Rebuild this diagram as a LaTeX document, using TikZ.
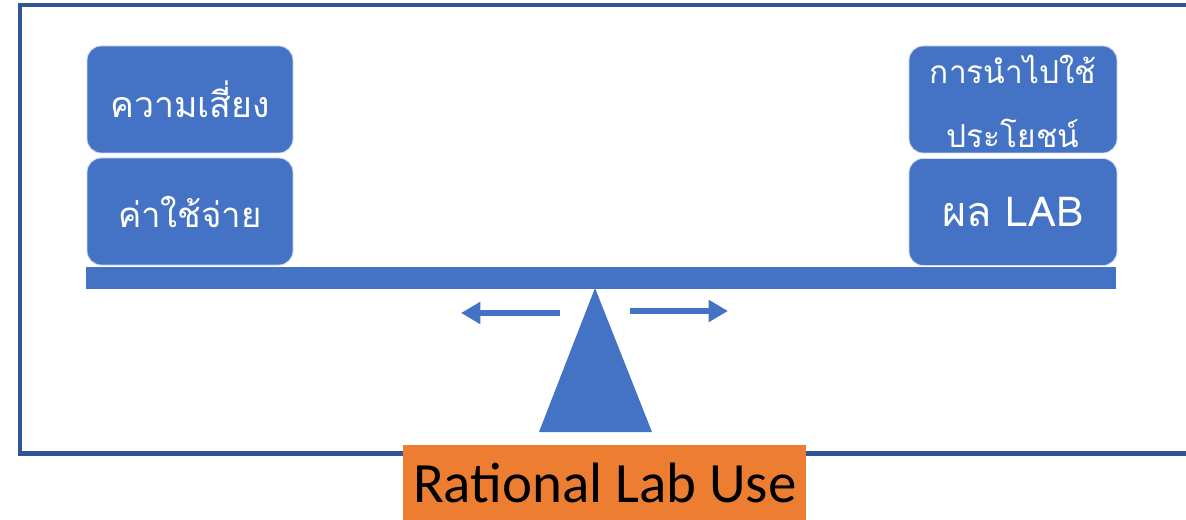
\documentclass[tikz,border=0pt]{standalone}
\usepackage{fontspec}
\setmainfont{Carlito}
\newfontfamily\thaifont[Script=Thai]{Loma}
\usetikzlibrary{arrows.meta}
\definecolor{boxblue}{RGB}{68,114,196}
\definecolor{frameblue}{RGB}{47,85,151}
\definecolor{labelorange}{RGB}{237,125,49}
\tikzset{
  weight/.style={fill=boxblue, draw=white!75!boxblue, line width=0.5pt,
    rounded corners=8pt, minimum width=206*0.02cm, minimum height=107*0.02cm,
    text=white, align=center, inner sep=0pt},
  weighttext/.style={text=white, align=center, inner sep=0pt},
  push/.style={draw=boxblue, line width=3.4pt,
    -{Triangle[length=11pt,width=12pt]}},
}
\begin{document}
\begin{tikzpicture}[x=0.02cm, y=-0.02cm]
  \useasboundingbox (0,0) rectangle (1186,520);
  % outer frame, open to the right
  \draw[frameblue, line width=2.3pt] (1200,5) -- (20,5) -- (20,453.5) -- (1200,453.5);
  % weights on the left pan
  \node[weight, font=\thaifont\fontsize{20.3}{24}\selectfont] (risk) at (190,99.5) {ความเสี่ยง};
  \node[weight, font=\thaifont\fontsize{19.8}{24}\selectfont] (cost) at (190,211.5) {ค่าใช้จ่าย};
  % weights on the right pan
  \node[weight, minimum width=208*0.02cm] (benefit) at (1013,99.5) {};
  \node[weighttext, font=\thaifont\fontsize{18}{36}\selectfont] (benefittext)
    at ([yshift=-2*0.02cm]benefit.center) {การนำไปใช้\\ประโยชน์};
  \node[weight, minimum width=208*0.02cm, font=\thaifont\fontsize{23.5}{28}\selectfont]
    (result) at (1013,212) {ผล LAB};
  % beam and fulcrum
  \fill[boxblue] (86,267) rectangle (1116,289);
  \fill[boxblue] (595,288) -- (652,432) -- (539,432) -- cycle;
  % tilt arrows
  \coordinate (lstart) at (560,313);
  \coordinate (lend) at (461,313);
  \coordinate (rstart) at (630,311);
  \coordinate (rend) at (728,311);
  \draw[push] (lstart) -- (lend);
  \draw[push] (rstart) -- (rend);
  % caption
  \node[fill=labelorange, minimum width=403*0.02cm, minimum height=75*0.02cm,
    inner sep=0pt, font=\fontsize{32.4}{36}\selectfont, anchor=north west] (caption)
    at (403,445) {Rational Lab Use};
\end{tikzpicture}
\end{document}
